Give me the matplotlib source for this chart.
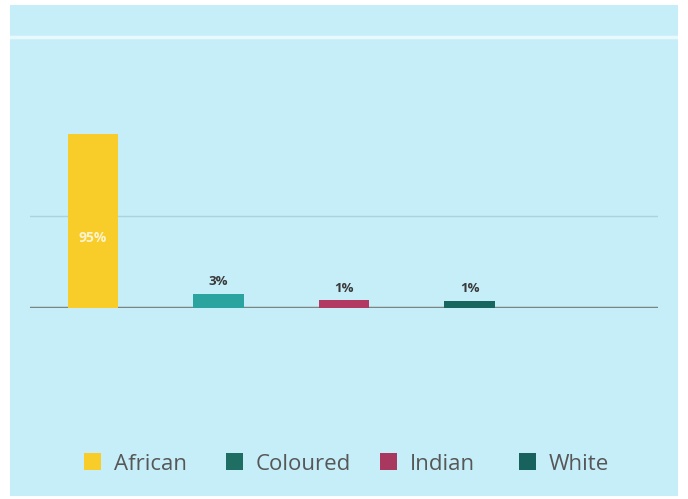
import matplotlib.pyplot as plt
from matplotlib.patches import Rectangle

groups = ['African', 'Coloured', 'Indian', 'White']
shares = [95, 3, 1, 1]                 # printed labels (%)
bar_heights = [95, 7.8, 4.3, 3.8]      # drawn bar heights
bar_colors = ['#f8cd2a', '#2ba39e', '#b23a62', '#17675f']
legend_colors = ['#f8cd2a', '#1f6e63', '#a8385e', '#17625c']
n_slots = 5

plt.rcParams['font.family'] = ['Open Sans', 'DejaVu Sans']

fig = plt.figure(figsize=(6.88, 4.99), dpi=100, facecolor='white')
bg = fig.add_axes([10 / 688, 3 / 499, 668 / 688, 491 / 499], zorder=-5)
bg.set_facecolor('#c6eef9')
bg.set_xlim(0, 1)
bg.set_ylim(0, 1)
bg.set_xticks([])
bg.set_yticks([])
for s in bg.spines.values():
    s.set_visible(False)
# faint white rule near the top of the panel
bg.axhline((499 - 37 - 3) / 491, color='#e8f8fc', lw=2.5)

ax = fig.add_axes([30 / 688, (499 - 308) / 499, 628 / 688, 271 / 499])
ax.set_facecolor('none')
ax.set_xlim(-0.5, n_slots - 0.5)
ax.set_ylim(0, 95 * 271 / 174)

x = list(range(len(groups)))
ax.axhline(50, color='#a9d3dd', lw=1, zorder=1)
ax.axhline(0, color='#7b8683', lw=2.5, zorder=2)
ax.bar(x, bar_heights, width=0.4, color=bar_colors, zorder=3)

for xi, v, h in zip(x, shares, bar_heights):
    if v > 20:
        ax.text(xi, h * 0.4, f'{v}%', ha='center', va='center', color='#fdf3d0',
                fontsize=10, fontweight='bold', zorder=5)
    else:
        ax.annotate(f'{v}%', (xi, h), xytext=(0, 4), textcoords='offset points',
                    ha='center', va='bottom', color='#3a3a3a', fontsize=9.5,
                    fontweight='bold', zorder=5)

for s in ax.spines.values():
    s.set_visible(False)
ax.set_xticks([])
ax.set_yticks([])

# legend items at fixed pixel positions, as in the original layout
legend_x = [84, 226, 380, 519]
legend_y = 461
for lx, label, c in zip(legend_x, groups, legend_colors):
    fig.patches.append(Rectangle((lx / 688, (499 - legend_y - 8.5) / 499), 17 / 688, 17 / 499,
                                 transform=fig.transFigure, facecolor=c, edgecolor='none'))
    fig.text((lx + 30) / 688, (499 - 469.5) / 499, label, ha='left', va='baseline',
             fontsize=16, color='#575757')

fig.savefig('out.png', dpi=100, facecolor='white')
